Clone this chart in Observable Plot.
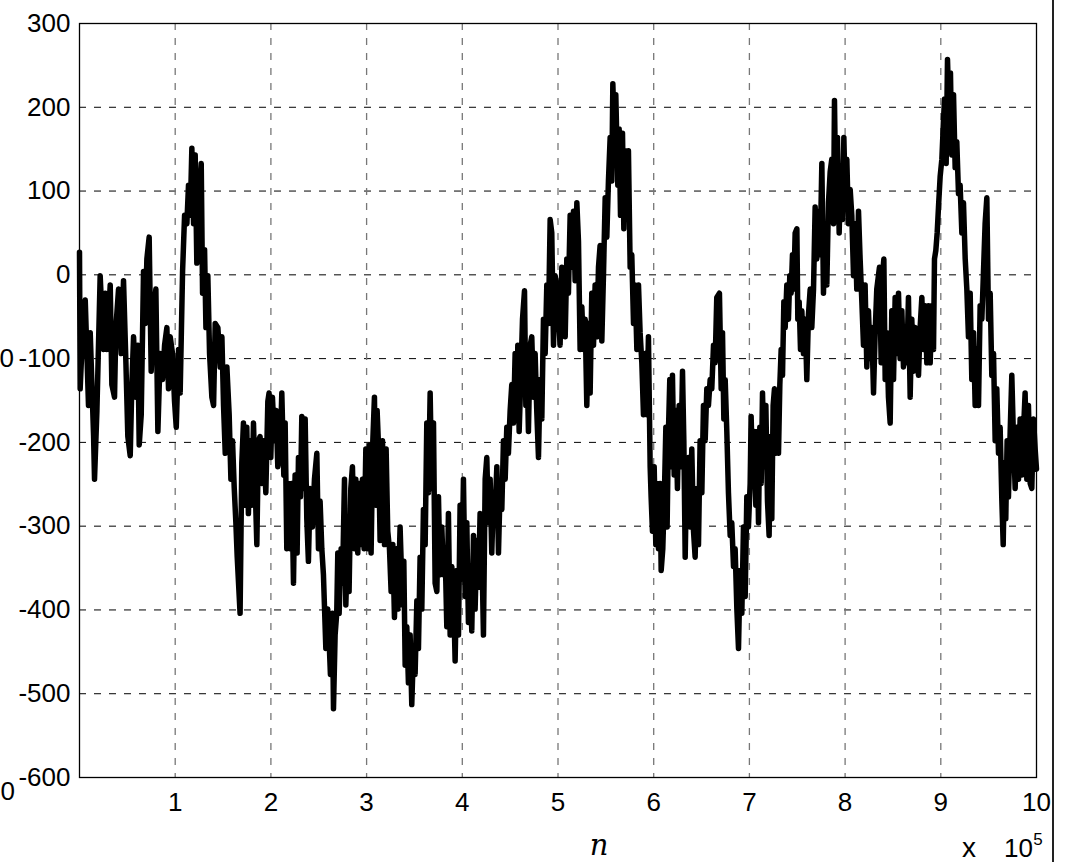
<!DOCTYPE html>
<html><head><meta charset="utf-8">
<script src="https://cdn.jsdelivr.net/npm/d3@7"></script>
<script src="https://cdn.jsdelivr.net/npm/@observablehq/plot@0.6"></script>
<style>
html,body{margin:0;padding:0;background:#fff;}
#chart{position:relative;width:1070px;height:862px;}
</style></head><body><div id="chart"></div>
<script>
// x in units of 10^5 samples, y = value
const xTicks = [1,2,3,4,5,6,7,8,9,10];
const yTicks = [-600,-500,-400,-300,-200,-100,0,100,200,300];
const seg1 = [[0,27],[0.007,-136],[0.042,-43],[0.060,-30],[0.094,-156],[0.112,-69],[0.147,-192],[0.157,-244],[0.182,-162],[0.216,-1],[0.251,-89],[0.269,-22],[0.286,-89],[0.321,-12],[0.338,-131],[0.366,-146],[0.380,-63],[0.408,-17],[0.436,-94],[0.460,-7],[0.485,-105],[0.505,-193],[0.530,-216],[0.547,-131],[0.565,-74],[0.589,-146],[0.610,-84],[0.624,-203],[0.645,-167],[0.669,4],[0.687,-58],[0.704,19],[0.728,45],[0.749,-115],[0.774,-43],[0.798,-17],[0.819,-187],[0.843,-94],[0.868,-125],[0.889,-84],[0.913,-63],[0.930,-136],[0.948,-74],[0.972,-94],[0.993,-151],[1.011,-182],[1.035,-89],[1.052,-141],[1.077,4],[1.098,71],[1.122,61],[1.139,107],[1.157,71],[1.174,151],[1.192,61],[1.209,143],[1.226,14],[1.251,92],[1.272,133],[1.286,-22],[1.307,30],[1.321,-63],[1.341,-1],[1.359,-94],[1.383,-146],[1.401,-156],[1.418,-58],[1.446,-63],[1.470,-110],[1.488,-74],[1.505,-156],[1.523,-213],[1.540,-110],[1.564,-167],[1.582,-244],[1.599,-198],[1.617,-255],[1.634,-296],[1.648,-337]];
const seg2 = [[1.678,-404],[1.696,-224],[1.713,-177],[1.731,-275],[1.748,-182],[1.765,-285],[1.783,-198],[1.800,-275],[1.818,-177],[1.835,-249],[1.853,-322],[1.870,-198],[1.887,-193],[1.905,-249],[1.922,-198],[1.947,-260],[1.968,-151],[1.981,-141],[1.999,-218],[2.016,-146],[2.037,-198],[2.055,-162],[2.072,-229],[2.096,-213],[2.114,-141],[2.135,-239],[2.149,-177],[2.166,-327],[2.183,-249],[2.201,-327],[2.218,-249],[2.236,-368],[2.253,-239],[2.274,-332],[2.288,-218],[2.309,-265],[2.323,-169],[2.344,-255],[2.358,-172],[2.375,-291],[2.392,-342],[2.410,-255],[2.434,-301],[2.455,-244],[2.480,-213],[2.497,-327],[2.514,-270],[2.532,-327],[2.549,-358],[2.574,-446],[2.594,-399],[2.608,-436],[2.622,-477],[2.643,-404],[2.654,-518],[2.671,-430],[2.688,-404],[2.699,-332],[2.713,-404],[2.734,-327],[2.748,-368],[2.769,-244],[2.783,-394],[2.800,-327],[2.817,-378],[2.835,-255],[2.852,-229],[2.873,-327],[2.887,-244],[2.908,-332],[2.922,-249],[2.936,-322],[2.957,-244],[2.974,-327],[2.992,-208],[3.012,-327],[3.030,-203],[3.047,-332],[3.065,-198],[3.082,-146],[3.096,-275],[3.110,-162],[3.124,-203],[3.141,-317],[3.166,-198],[3.187,-322],[3.204,-208],[3.221,-306],[3.239,-327],[3.256,-378],[3.274,-322],[3.291,-409],[3.312,-327],[3.326,-399]];
const seg3 = [[3.350,-301],[3.375,-394],[3.389,-342],[3.403,-466],[3.420,-420],[3.437,-487],[3.455,-430],[3.472,-513],[3.490,-446],[3.507,-477],[3.525,-389],[3.542,-446],[3.559,-337],[3.577,-399],[3.594,-280],[3.612,-322],[3.629,-177],[3.646,-260],[3.664,-141],[3.681,-255],[3.699,-177],[3.716,-368],[3.734,-378],[3.751,-265],[3.768,-358],[3.786,-301],[3.803,-358],[3.821,-332],[3.838,-420],[3.855,-285],[3.873,-430],[3.890,-348],[3.908,-378],[3.925,-461],[3.943,-353],[3.960,-430],[3.977,-275],[3.995,-363],[4.012,-244],[4.030,-384],[4.047,-296],[4.064,-415],[4.082,-348],[4.099,-425],[4.117,-311],[4.134,-399],[4.152,-317],[4.169,-373],[4.186,-285],[4.204,-327],[4.221,-430],[4.239,-244],[4.256,-218],[4.273,-296],[4.291,-244],[4.308,-332],[4.326,-260],[4.343,-280],[4.361,-229],[4.378,-332],[4.395,-255],[4.413,-280],[4.430,-198],[4.448,-244],[4.465,-182],[4.482,-213],[4.500,-162],[4.517,-131],[4.535,-177],[4.552,-94],[4.569,-172],[4.580,-84],[4.594,-187],[4.611,-125],[4.629,-53],[4.650,-19],[4.664,-156],[4.674,-94],[4.691,-187],[4.709,-84],[4.726,-74],[4.744,-146],[4.761,-94],[4.778,-162],[4.796,-218],[4.813,-125],[4.831,-172],[4.848,-53],[4.866,-94],[4.883,-12],[4.900,-58],[4.918,66],[4.935,50],[4.953,-84],[4.970,-1],[4.987,-12]];
const seg4 = [[5.022,-84],[5.040,9],[5.057,-63],[5.075,-74],[5.092,19],[5.109,-22],[5.127,71],[5.144,9],[5.162,76],[5.179,-7],[5.197,86],[5.214,40],[5.231,-89],[5.249,-38],[5.266,-89],[5.284,-53],[5.301,-156],[5.318,-58],[5.336,-141],[5.353,-22],[5.371,-84],[5.388,-12],[5.406,-74],[5.423,9],[5.440,35],[5.458,-79],[5.475,-1],[5.493,92],[5.510,45],[5.527,112],[5.545,164],[5.562,112],[5.573,228],[5.590,164],[5.604,215],[5.625,107],[5.639,174],[5.653,71],[5.674,169],[5.688,55],[5.702,148],[5.719,86],[5.736,148],[5.754,9],[5.771,24],[5.789,-58],[5.806,-12],[5.824,-89],[5.841,-12],[5.858,-69],[5.876,-105],[5.893,-167],[5.911,-94],[5.928,-167],[5.945,-74],[5.963,-229],[5.973,-265],[5.987,-306],[6.005,-229],[6.022,-322],[6.036,-249],[6.050,-327],[6.067,-249],[6.078,-353],[6.095,-327],[6.113,-255],[6.127,-182],[6.140,-301],[6.154,-187],[6.168,-125],[6.182,-229],[6.196,-120],[6.214,-239],[6.231,-162],[6.248,-255],[6.266,-156],[6.283,-229],[6.301,-115],[6.315,-198],[6.329,-337],[6.346,-224],[6.363,-218],[6.381,-301],[6.398,-208],[6.416,-306],[6.433,-337],[6.450,-255],[6.468,-322],[6.485,-198],[6.503,-260],[6.520,-156],[6.538,-198],[6.555,-136],[6.572,-156],[6.590,-125],[6.607,-136],[6.625,-84],[6.642,-105],[6.659,-27]];
const seg5 = [[6.687,-22],[6.705,-136],[6.719,-69],[6.733,-172],[6.747,-125],[6.764,-187],[6.781,-260],[6.799,-311],[6.816,-296],[6.834,-348],[6.851,-327],[6.869,-399],[6.886,-446],[6.903,-353],[6.921,-404],[6.938,-301],[6.956,-384],[6.973,-265],[6.990,-301],[7.008,-249],[7.018,-169],[7.036,-249],[7.050,-187],[7.067,-275],[7.081,-187],[7.095,-296],[7.109,-182],[7.123,-249],[7.137,-141],[7.154,-229],[7.172,-156],[7.189,-270],[7.206,-311],[7.220,-193],[7.234,-291],[7.248,-156],[7.262,-136],[7.276,-213],[7.290,-146],[7.304,-213],[7.318,-131],[7.332,-89],[7.346,-120],[7.360,-32],[7.374,-63],[7.391,-12],[7.408,-53],[7.422,-1],[7.436,-22],[7.450,24],[7.464,-17],[7.478,50],[7.496,55],[7.506,-53],[7.520,-32],[7.534,-89],[7.548,-43],[7.565,-94],[7.583,-53],[7.600,-125],[7.617,-48],[7.635,-17],[7.652,-63],[7.670,-17],[7.687,81],[7.704,19],[7.722,76],[7.739,24],[7.757,133],[7.774,-22],[7.792,61],[7.809,-12],[7.826,86],[7.844,123],[7.861,138],[7.879,61],[7.889,208],[7.903,86],[7.920,164],[7.938,50],[7.952,117],[7.973,66],[7.987,164],[8.001,97],[8.018,138],[8.035,61],[8.053,102],[8.070,71],[8.088,-1],[8.105,61],[8.122,-17],[8.140,76],[8.157,19],[8.175,-32],[8.192,-84],[8.209,-12],[8.227,-110],[8.244,-43],[8.262,-100],[8.279,-63],[8.297,-141],[8.314,-69],[8.331,-17]];
const seg6 = [[8.359,9],[8.377,-105],[8.391,-1],[8.405,19],[8.419,-125],[8.436,-69],[8.453,-146],[8.471,-177],[8.488,-43],[8.506,-125],[8.523,-27],[8.541,-94],[8.558,-22],[8.575,-100],[8.593,-43],[8.610,-110],[8.628,-63],[8.645,-105],[8.662,-27],[8.680,-146],[8.697,-53],[8.715,-115],[8.732,-63],[8.750,-94],[8.767,-120],[8.784,-63],[8.802,-27],[8.819,-89],[8.837,-37],[8.854,-105],[8.871,-37],[8.889,-105],[8.906,-37],[8.924,-89],[8.934,19],[8.948,29],[8.962,50],[8.976,81],[8.993,117],[9.011,138],[9.028,184],[9.039,210],[9.056,133],[9.070,257],[9.087,190],[9.101,241],[9.115,143],[9.133,215],[9.150,128],[9.167,159],[9.185,97],[9.202,107],[9.220,50],[9.237,86],[9.255,19],[9.272,-17],[9.289,-74],[9.307,-22],[9.324,-125],[9.342,-69],[9.359,-156],[9.376,-89],[9.394,-156],[9.411,-37],[9.429,-53],[9.446,4],[9.463,61],[9.481,92],[9.498,-53],[9.516,-22],[9.533,-120],[9.551,-94],[9.568,-198],[9.585,-136],[9.603,-213],[9.620,-182],[9.638,-270],[9.652,-322],[9.666,-224],[9.679,-291],[9.693,-198],[9.707,-265],[9.725,-187],[9.742,-120],[9.760,-198],[9.777,-255],[9.794,-182],[9.812,-244],[9.829,-172],[9.847,-239],[9.864,-187],[9.881,-141],[9.899,-244],[9.916,-156],[9.934,-249],[9.951,-255],[9.969,-172],[9.986,-208],[10,-232]];

const data = [...seg1, ...seg2, ...seg3, ...seg4, ...seg5, ...seg6].map(([n, v]) => ({n, v}));

const plot = Plot.plot({
  width: 1070, height: 862,
  marginLeft: 79, marginRight: 34, marginTop: 23, marginBottom: 85,
  style: {fontFamily: "'Liberation Sans', Arial, sans-serif", fontSize: "26px", background: "#fff", color: "#000"},
  x: {domain: [0, 10]},
  y: {domain: [-600, 300]},
  marks: [
    Plot.ruleY(yTicks.filter(d => d > -600 && d < 300), {stroke: "#000", strokeWidth: 1, strokeDasharray: "7,8"}),
    Plot.ruleX(xTicks.filter(d => d < 10), {stroke: "#777", strokeWidth: 1.3, strokeDasharray: "7,8"}),
    Plot.line(data, {x: "n", y: "v", stroke: "#000", strokeWidth: 5.5, strokeLinejoin: "round", strokeLinecap: "round"}),
    Plot.frame({stroke: "#000", strokeWidth: 1.3}),
    Plot.axisX({ticks: xTicks, tickSize: 0, tickPadding: 15, tickFormat: d => String(d), label: null}),
    Plot.axisY({ticks: yTicks, tickSize: 0, tickPadding: 9, tickFormat: d => String(d), label: null})
  ]
});
document.getElementById("chart").appendChild(plot);

const svg = d3.select(plot);
svg.append("line").attr("x1", 1053).attr("x2", 1053).attr("y1", 0).attr("y2", 862)
  .attr("stroke", "#222").attr("stroke-width", 2);
svg.append("text").attr("x", 14).attr("y", 358).attr("dy", "0.35em").attr("text-anchor", "end").text("0");
svg.append("text").attr("x", 15).attr("y", 791).attr("dy", "0.35em").attr("text-anchor", "end").text("0");
svg.append("text").attr("x", 969).attr("y", 857).style("font-size", "28px").text("x");
svg.append("text").attr("x", 1033).attr("y", 857).attr("text-anchor", "end").text("10");
svg.append("text").attr("x", 1038).attr("y", 845).style("font-size", "17px").text("5");
svg.append("text").attr("x", 599).attr("y", 855).attr("text-anchor", "middle")
  .style("font-family", "'DejaVu Serif', serif").style("font-style", "italic").style("font-size", "29px").text("n");
</script>
</body></html>
